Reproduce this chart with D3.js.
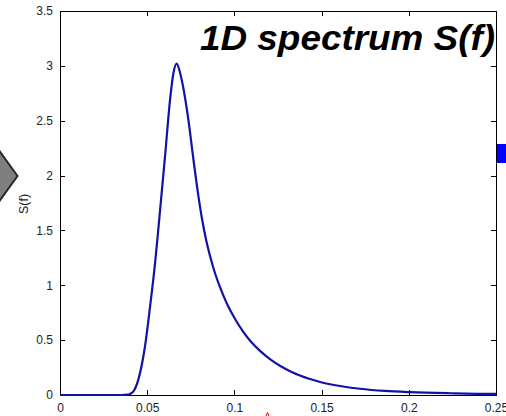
<!DOCTYPE html>
<html>
<head>
<meta charset="utf-8">
<script src="https://cdn.jsdelivr.net/npm/d3@7"></script>
<style>
  html, body { margin: 0; padding: 0; background: #fff; }
  svg { display: block; }
</style>
</head>
<body>
<svg id="chart" width="506" height="416"></svg>
<script>
// ---- data ----
const freq = [0, 0.02, 0.035, 0.039, 0.0401, 0.0420, 0.0449, 0.0487, 0.0516, 0.0545, 0.0569, 0.0602, 0.0631, 0.0650, 0.0669, 0.0688, 0.0707, 0.0736, 0.0764, 0.0793, 0.0816, 0.0837, 0.0860, 0.0889, 0.0917, 0.0958, 0.1003, 0.1051, 0.1089, 0.1147, 0.1204, 0.1261, 0.1319, 0.1376, 0.1491, 0.1606, 0.1720, 0.1864, 0.2007, 0.2236, 0.2483, 0.25];
const spec = [0, 0, 0, 0.004, 0.01, 0.03, 0.14, 0.44, 0.80, 1.20, 1.60, 2.17, 2.69, 2.93, 3.02, 2.94, 2.80, 2.51, 2.16, 1.82, 1.59, 1.42, 1.27, 1.11, 0.985, 0.83, 0.695, 0.575, 0.497, 0.402, 0.327, 0.266, 0.217, 0.177, 0.119, 0.082, 0.057, 0.037, 0.026, 0.016, 0.010, 0.010];
const xTicks = [0, 0.05, 0.1, 0.15, 0.2, 0.25];
const xTickLabels = ["0", "0.05", "0.1", "0.15", "0.2", "0.25"];
const yTicks = [0, 0.5, 1, 1.5, 2, 2.5, 3, 3.5];
const yTickLabels = ["0", "0.5", "1", "1.5", "2", "2.5", "3", "3.5"];
const titleText = "1D spectrum S(f)";
const yLabel = "S(f)";

// ---- layout ----
const svg = d3.select("#chart");
const L = 60, R = 496, T = 11, B = 395;
const x = d3.scaleLinear().domain([0, 0.25]).range([L, R]);
const y = d3.scaleLinear().domain([0, 3.5]).range([B, T]);
const font = "'Liberation Sans', Arial, Helvetica, sans-serif";

// decorative grey arrow on the left
svg.append("path")
  .attr("d", "M-2,149 L17.5,176 L-2,203 Z")
  .attr("fill", "#7f7f7f")
  .attr("stroke", "#2a2a2a")
  .attr("stroke-width", 2);

// blue box at right edge
svg.append("rect")
  .attr("x", 496).attr("y", 144).attr("width", 12).attr("height", 19)
  .attr("fill", "#0000ff");

// frame
svg.append("rect")
  .attr("x", L).attr("y", T).attr("width", R - L).attr("height", B - T)
  .attr("fill", "none").attr("stroke", "#000").attr("stroke-width", 1)
  .attr("shape-rendering", "crispEdges");

// axes (ticks inside, MATLAB style)
const tickLen = 5;
const gx = svg.append("g").attr("transform", `translate(0,${B})`)
  .call(d3.axisBottom(x).tickValues(xTicks).tickSize(-tickLen).tickPadding(tickLen + 3)
    .tickFormat((d, i) => xTickLabels[i]));
const gxTop = svg.append("g").attr("transform", `translate(0,${T})`)
  .call(d3.axisTop(x).tickValues(xTicks).tickSize(-tickLen).tickFormat(""));
const gy = svg.append("g").attr("transform", `translate(${L},0)`)
  .call(d3.axisLeft(y).tickValues(yTicks).tickSize(-tickLen).tickPadding(tickLen + 2)
    .tickFormat((d, i) => yTickLabels[i]));
const gyR = svg.append("g").attr("transform", `translate(${R},0)`)
  .call(d3.axisRight(y).tickValues(yTicks).tickSize(-tickLen).tickFormat(""));

[gx, gxTop, gy, gyR].forEach(g => {
  g.select(".domain").remove();
  g.selectAll(".tick line").attr("stroke", "#000").attr("shape-rendering", "crispEdges");
  g.selectAll("text").attr("font-family", font).attr("font-size", 12).attr("fill", "#222");
});

// curve
const line = d3.line()
  .x((d, i) => x(freq[i]))
  .y((d, i) => y(spec[i]))
  .curve(d3.curveMonotoneX);
svg.append("path")
  .datum(spec)
  .attr("d", line)
  .attr("fill", "none")
  .attr("stroke", "#1212a8")
  .attr("stroke-width", 2.2)
  .attr("stroke-linejoin", "round");

// y label
svg.append("text")
  .attr("transform", "translate(28,204) rotate(-90)")
  .attr("text-anchor", "middle")
  .attr("font-family", font).attr("font-size", 12.5).attr("fill", "#222")
  .text(yLabel);

// title
svg.append("text")
  .attr("x", 495).attr("y", 50)
  .attr("text-anchor", "end")
  .attr("font-family", font).attr("font-size", 35)
  .attr("font-weight", "bold").attr("font-style", "italic")
  .attr("fill", "#000")
  .attr("textLength", 295).attr("lengthAdjust", "spacingAndGlyphs")
  .text(titleText);

// tiny red mark at bottom
svg.append("path")
  .attr("d", "M266,416 L267.5,412.5 L269,416")
  .attr("fill", "none").attr("stroke", "#e00000").attr("stroke-width", 1);
</script>
</body>
</html>
